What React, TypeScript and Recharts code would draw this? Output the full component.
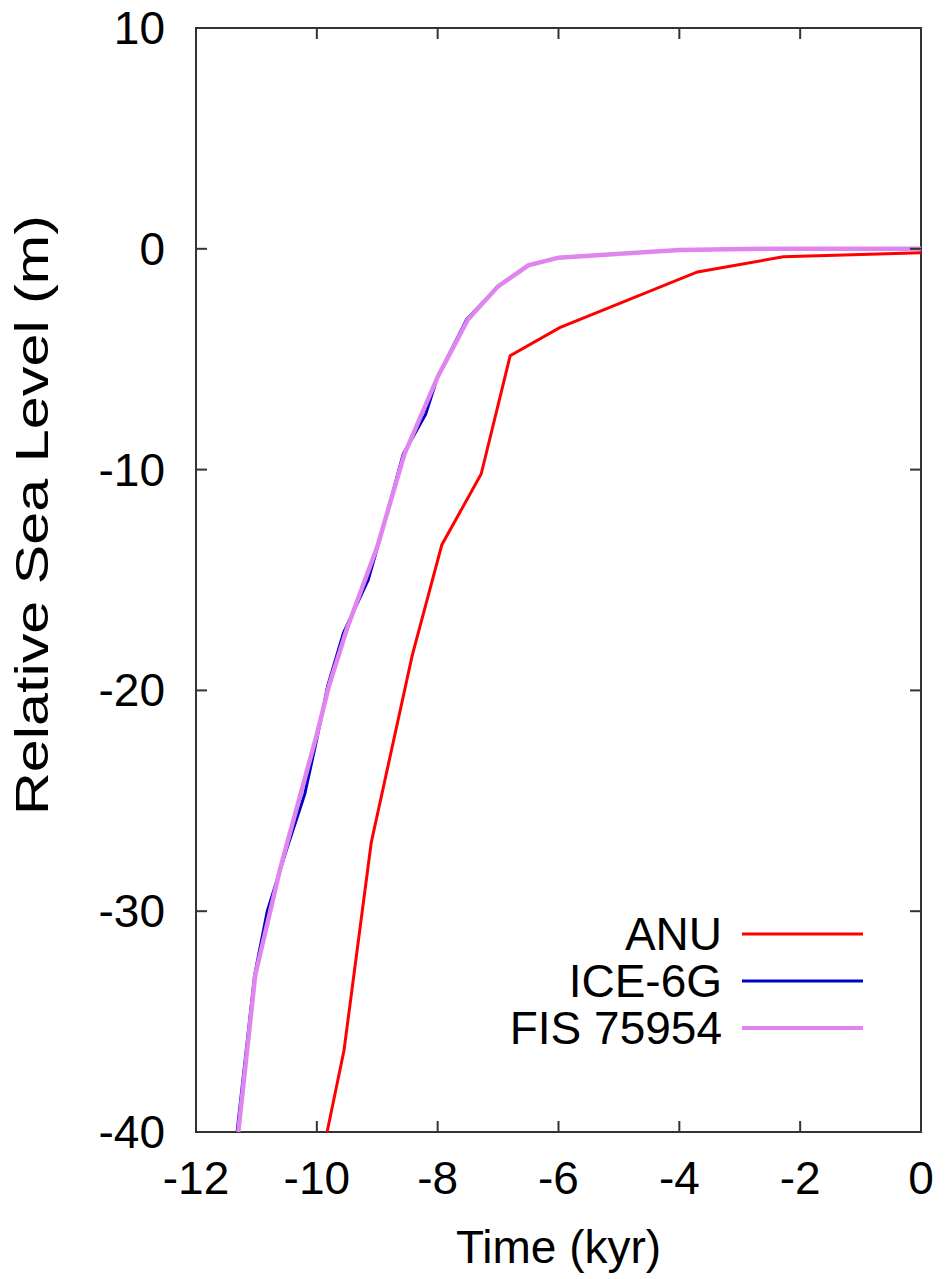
import React from "react";
import { LineChart, Line, XAxis, YAxis, ReferenceArea, Label } from "recharts";

// ---- data ----
const kyrTicks = [-12, -10, -8, -6, -4, -2, 0];
const rslTicks = [-40, -30, -20, -10, 0, 10];

const anuTime = [-9.83, -9.55, -9.1, -8.42, -7.93, -7.28, -6.8, -5.98, -3.7, -2.28, 0];
const anuRsl = [-40, -36.3, -26.9, -18.4, -13.4, -10.2, -4.84, -3.57, -1.05, -0.36, -0.18];

const iceTime = [-11.32, -11.03, -10.82, -10.5, -10.2, -10.0, -9.82, -9.56, -9.15, -8.9, -8.57, -8.2, -8.0, -7.52, -7.0, -6.5, -6.0, -4.0, -2.5, 0];
const iceRsl = [-40, -32.9, -30.0, -27.2, -24.7, -22.2, -19.8, -17.4, -15.0, -12.6, -9.3, -7.5, -5.8, -3.2, -1.7, -0.75, -0.4, -0.05, 0, 0];

const fisTime = [-11.3, -11.02, -10.6, -10.3, -10.0, -9.8, -9.5, -9.0, -8.55, -8.0, -7.5, -7.0, -6.5, -6.0, -4.0, -2.5, 0];
const fisRsl = [-40, -32.9, -28.0, -25.0, -22.0, -19.8, -17.2, -13.5, -9.3, -5.8, -3.2, -1.7, -0.75, -0.4, -0.05, 0, 0];

const seriesNames = ["ANU", "ICE-6G", "FIS 75954"];
const seriesColors = ["#ff0000", "#0000c8", "#e085ee"];

const toPoints = (ts: number[], vs: number[]) => ts.map((t, i) => ({ t, v: vs[i] }));
const anuData = toPoints(anuTime, anuRsl);
const iceData = toPoints(iceTime, iceRsl);
const fisData = toPoints(fisTime, fisRsl);

// ---- layout ----
const W = 945;
const H = 1279;
const M = { top: 28, right: 24, bottom: 0, left: 0 };
const Y_AXIS_W = 196;
const X_AXIS_H = 147;
const PLOT_LEFT = M.left + Y_AXIS_W;
const PLOT_RIGHT = W - M.right;
const PLOT_TOP = M.top;
const PLOT_BOTTOM = H - M.bottom - X_AXIS_H;
const FONT = "'Liberation Sans', Arial, Helvetica, sans-serif";
const FS = 46;
const TICK_LEN = 11;
const AXIS_COLOR = "#333";

const YTick = (props: any) => {
  const { y, payload } = props;
  return (
    <g>
      <line x1={PLOT_LEFT} x2={PLOT_LEFT + TICK_LEN} y1={y} y2={y} stroke={AXIS_COLOR} strokeWidth={2} />
      <line x1={PLOT_RIGHT - TICK_LEN} x2={PLOT_RIGHT} y1={y} y2={y} stroke={AXIS_COLOR} strokeWidth={2} />
      <text x={PLOT_LEFT - 31} y={y + 16} textAnchor="end" fontSize={FS} fontFamily={FONT} fill="#000">
        {payload.value}
      </text>
    </g>
  );
};

const XTick = (props: any) => {
  const { x, payload } = props;
  return (
    <g>
      <line x1={x} x2={x} y1={PLOT_BOTTOM} y2={PLOT_BOTTOM - TICK_LEN} stroke={AXIS_COLOR} strokeWidth={2} />
      <line x1={x} x2={x} y1={PLOT_TOP} y2={PLOT_TOP + TICK_LEN} stroke={AXIS_COLOR} strokeWidth={2} />
      <text x={x} y={PLOT_BOTTOM + 62} textAnchor="middle" fontSize={FS} fontFamily={FONT} fill="#000">
        {payload.value}
      </text>
    </g>
  );
};

const Y_LABEL_CY = 515;
const YLabel = () => (
  <text
    x={48}
    y={Y_LABEL_CY}
    transform={`rotate(-90, 48, ${Y_LABEL_CY})`}
    textAnchor="middle"
    textLength={600}
    lengthAdjust="spacingAndGlyphs"
    fontSize={FS}
    fontFamily={FONT}
    fill="#000"
  >
    Relative Sea Level (m)
  </text>
);

const XLabel = () => (
  <text x={(PLOT_LEFT + PLOT_RIGHT) / 2} y={1263} textAnchor="middle" fontSize={FS} fontFamily={FONT} fill="#000">
    Time (kyr)
  </text>
);

const LegendBox = () => {
  const widths = [3, 3, 4];
  return (
    <svg
      width={420}
      height={170}
      style={{ position: "absolute", left: 480, top: 890, overflow: "visible" }}
    >
      {seriesNames.map((name, i) => {
        const cy = 44 + i * 47;
        return (
          <g key={name}>
            <text x={242} y={cy + 16} textAnchor="end" fontSize={FS} fontFamily={FONT} fill="#000">
              {name}
            </text>
            <line x1={262} x2={383} y1={cy} y2={cy} stroke={seriesColors[i]} strokeWidth={widths[i]} />
          </g>
        );
      })}
    </svg>
  );
};

export default function App() {
  return (
    <div style={{ position: "absolute", left: 0, top: 0, width: W, height: H, background: "#fff" }}>
      <LineChart width={W} height={H} margin={M}>
        <XAxis
          type="number"
          dataKey="t"
          domain={[-12, 0]}
          ticks={kyrTicks}
          allowDataOverflow
          height={X_AXIS_H}
          axisLine={false}
          tickLine={false}
          tickSize={0}
          tickMargin={0}
          tick={<XTick />}
          interval={0}
        >
          <Label content={<XLabel />} />
        </XAxis>
        <YAxis
          type="number"
          dataKey="v"
          domain={[-40, 10]}
          ticks={rslTicks}
          allowDataOverflow
          width={Y_AXIS_W}
          axisLine={false}
          tickLine={false}
          tickSize={0}
          tickMargin={0}
          tick={<YTick />}
          interval={0}
        >
          <Label content={<YLabel />} />
        </YAxis>
        <ReferenceArea
          x1={-12}
          x2={0}
          y1={-40}
          y2={10}
          fill="none"
          fillOpacity={0}
          stroke={AXIS_COLOR}
          strokeWidth={2}
          ifOverflow="visible"
        />
        <Line data={anuData} dataKey="v" type="linear" stroke={seriesColors[0]} strokeWidth={3} dot={false} isAnimationActive={false} name={seriesNames[0]} />
        <Line data={iceData} dataKey="v" type="linear" stroke={seriesColors[1]} strokeWidth={3} dot={false} isAnimationActive={false} name={seriesNames[1]} />
        <Line data={fisData} dataKey="v" type="linear" stroke={seriesColors[2]} strokeWidth={4.5} dot={false} isAnimationActive={false} name={seriesNames[2]} />
      </LineChart>
      <LegendBox />
    </div>
  );
}
